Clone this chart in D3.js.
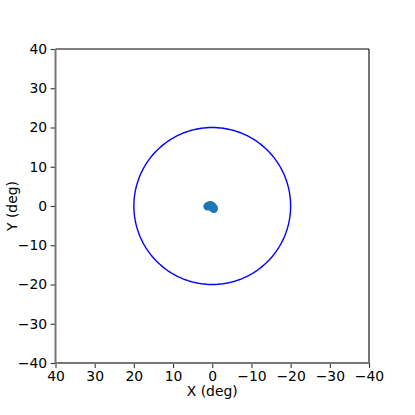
<!DOCTYPE html>
<html lang="en">
  <head>
    <meta charset="utf-8">
    <title>pointing scatter</title>
    <script src="https://d3js.org/d3.v7.js"></script>
    <style>
      body { margin: 0; background: white; }
      text { font-family: "DejaVu Sans", sans-serif; font-size: 13.9px; fill: black; }
    </style>
  </head>
  <body>
    <script type="text/javascript">
      // data
      var xDeg = [1.2, 0.9, 0.5, 0.2, -0.1, -0.3, -0.4, 0.1];
      var yDeg = [-0.1, 0.1, 0.2, 0.1, -0.2, -0.5, -0.7, -0.3];
      var ringRadius = 20;
      var tickValues = [40, 30, 20, 10, 0, -10, -20, -30, -40];

      var w = 415, h = 415;
      var margin = {left: 55.5, right: 369, top: 49, bottom: 363};

      var xScale = d3.scaleLinear().domain([40, -40]).range([margin.left, margin.right]);
      var yScale = d3.scaleLinear().domain([-40, 40]).range([margin.bottom, margin.top]);

      var fmt = d => d < 0 ? "\u2212" + Math.abs(d) : String(d);

      var svg = d3.select("body").append("svg")
        .attr("width", w)
        .attr("height", h);

      svg.append("rect")
        .attr("width", w).attr("height", h)
        .attr("fill", "white");

      // ring
      var ring = d3.range(0, 361, 2).map(a => [ringRadius * Math.cos(a * Math.PI / 180), ringRadius * Math.sin(a * Math.PI / 180)]);
      svg.append("path")
        .datum(ring)
        .attr("d", d3.line().x(d => xScale(d[0])).y(d => yScale(d[1])))
        .attr("fill", "none")
        .attr("stroke", "blue")
        .attr("stroke-width", 1.4);

      // points
      svg.selectAll("circle.pt")
        .data(xDeg.map((x, i) => [x, yDeg[i]]))
        .enter().append("circle")
        .attr("class", "pt")
        .attr("cx", d => xScale(d[0]))
        .attr("cy", d => yScale(d[1]))
        .attr("r", 4.2)
        .attr("fill", "#1f77b4");

      // axes
      var xAxis = d3.axisBottom(xScale).tickValues(tickValues).tickFormat(fmt).tickSize(4.9).tickPadding(3.5);
      var yAxis = d3.axisLeft(yScale).tickValues(tickValues).tickFormat(fmt).tickSize(4.9).tickPadding(3.5);

      var gx = svg.append("g")
        .attr("transform", `translate(0, ${margin.bottom})`)
        .call(xAxis);
      var gy = svg.append("g")
        .attr("transform", `translate(${margin.left}, 0)`)
        .call(yAxis);

      [gx, gy].forEach(g => {
        g.select(".domain").remove();
        g.selectAll(".tick line").attr("stroke", "#333").attr("stroke-width", 1.1);
        g.selectAll("text").attr("font-size", "13.9px").attr("font-family", "DejaVu Sans, sans-serif");
      });

      // spines
      svg.append("line").attr("x1", margin.left).attr("x2", margin.right).attr("y1", margin.top).attr("y2", margin.top)
        .attr("stroke", "black").attr("stroke-width", 1.1);
      svg.append("line").attr("x1", margin.right).attr("x2", margin.right).attr("y1", margin.top).attr("y2", margin.bottom)
        .attr("stroke", "black").attr("stroke-width", 1.1);
      svg.append("line").attr("x1", margin.left).attr("x2", margin.left).attr("y1", margin.top).attr("y2", margin.bottom)
        .attr("stroke", "#777").attr("stroke-width", 2);
      svg.append("line").attr("x1", margin.left).attr("x2", margin.right).attr("y1", margin.bottom).attr("y2", margin.bottom)
        .attr("stroke", "#777").attr("stroke-width", 2);

      // labels
      svg.append("text")
        .attr("x", (margin.left + margin.right) / 2)
        .attr("y", 396)
        .attr("text-anchor", "middle")
        .text("X (deg)");
      svg.append("text")
        .attr("transform", `translate(17, ${(margin.top + margin.bottom) / 2}) rotate(-90)`)
        .attr("text-anchor", "middle")
        .text("Y (deg)");
    </script>
  </body>
</html>
